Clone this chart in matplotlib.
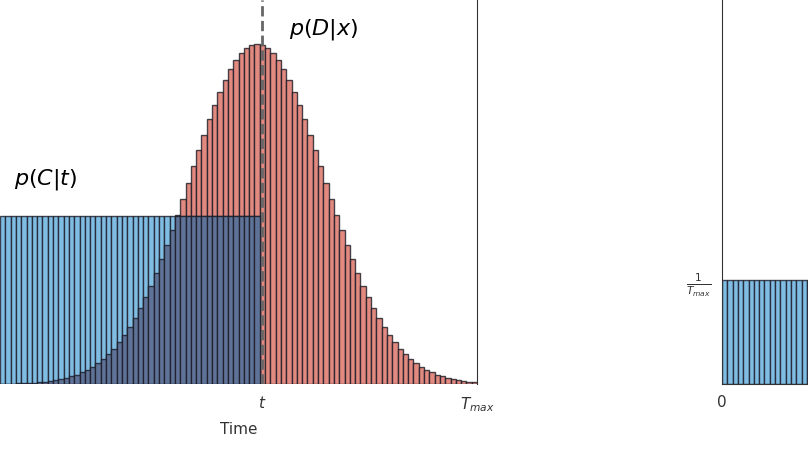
import matplotlib
matplotlib.use("Agg")
import matplotlib.pyplot as plt
import numpy as np

red_heights = [0,0,0,1,1,1,1,2,2,3,4,5,6,8,9,12,14,17,21,25,30,35,42,49,57,66,76,87,98,111,
               125,139,154,169,185,201,218,234,249,265,279,292,304,315,324,331,336,339,340,
               339,336,331,324,315,304,292,279,265,249,234,218,201,185,169,154,139,125,111,98,87,
               76,66,57,49,42,35,30,25,21,17,14,12,9,8,6,5,4,3,2,2]
n_blue = 49
blue_height = 168
uniform_height = 104
n_uniform = 90
t_pos = 49.4
T_max = 90

RED = '#e28a80'
BLUE = '#80bde3'
DARK = '#5f7398'
EDGE = (0.1, 0.1, 0.15, 0.8)

fig = plt.figure(figsize=(8.08, 4.55), dpi=100)
W, H = 808, 455
ax = fig.add_axes([0, (H-384)/H, 477/W, 384/H])
x = np.arange(len(red_heights))
ax.bar(x, red_heights, width=1, align='edge', color=RED, edgecolor=EDGE, linewidth=1)
bx = np.arange(n_blue)
ax.bar(bx, [blue_height]*n_blue, width=1, align='edge', color=BLUE, edgecolor=EDGE, linewidth=1)
ov = [min(red_heights[i], blue_height) for i in bx]
ax.bar(bx, ov, width=1, align='edge', color=DARK, edgecolor=EDGE, linewidth=1)
ax.axvline(t_pos, color='#666666', linestyle='--', linewidth=2)
ax.set_xlim(0, T_max)
ax.set_ylim(0, 384)
ax.set_xticks([t_pos, T_max])
ax.set_xticklabels(['$t$', '$T_{max}$'], fontsize=11, color='#333333')
ax.tick_params(length=0, pad=8)
ax.set_yticks([])
ax.set_xlabel('Time', fontsize=11, color='#333333', labelpad=6)
for s in ['top', 'left', 'bottom']:
    ax.spines[s].set_visible(False)
ax.spines['right'].set_color('#333333')
ax.text(2.6, 200, '$p(C|t)$', fontsize=16)
ax.text(54.5, 350, '$p(D|x)$', fontsize=16)

ax2 = fig.add_axes([722/W, (H-384)/H, 477/W, 384/H])
ux = np.arange(n_uniform)
ax2.bar(ux, [uniform_height]*n_uniform, width=1, align='edge', color=BLUE, edgecolor=EDGE, linewidth=1)
ax2.set_xlim(0, T_max)
ax2.set_ylim(0, 384)
ax2.set_xticks([0])
ax2.set_xticklabels(['0'], fontsize=11, color='#333333')
ax2.set_yticks([uniform_height])
ax2.set_yticklabels([r'$\frac{1}{T_{max}}$'], fontsize=11, color='#333333')
ax2.tick_params(length=0, pad=8)
for s in ['top', 'right']:
    ax2.spines[s].set_visible(False)
ax2.spines['left'].set_color('#333333')
ax2.spines['bottom'].set_color('#333333')

fig.savefig('out.png', dpi=100)
